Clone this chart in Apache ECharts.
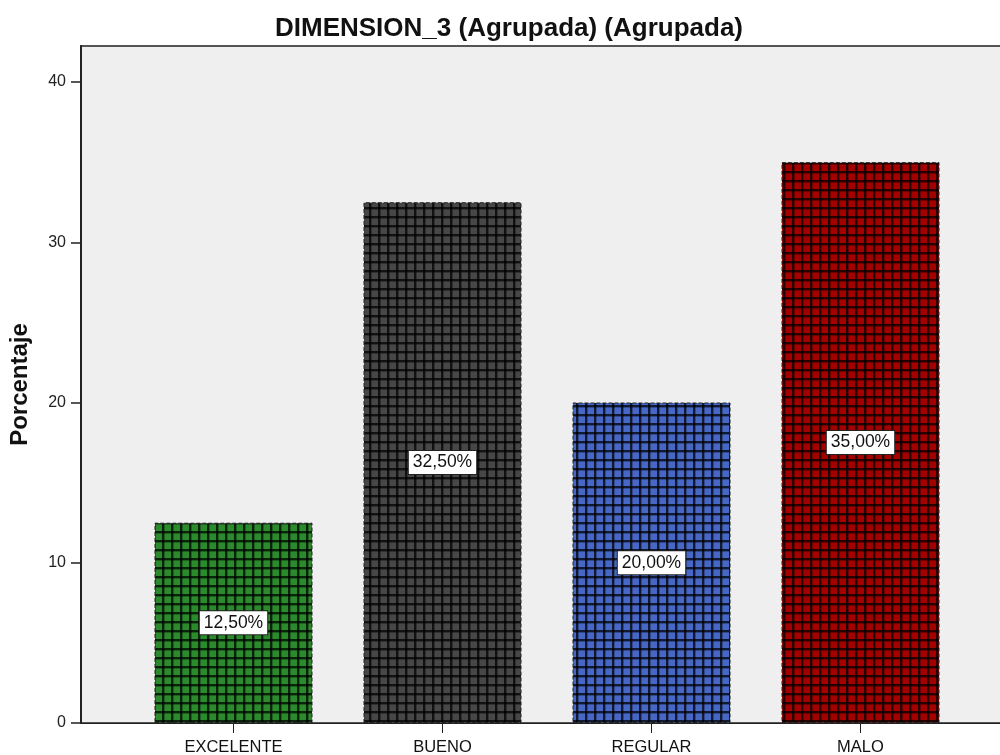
<!DOCTYPE html>
<html><head><meta charset="utf-8">
<script src="https://cdn.jsdelivr.net/npm/echarts@6/dist/echarts.min.js"></script>
<style>html,body{margin:0;padding:0;background:#fff}#c{width:1000px;height:755px}</style>
</head><body><div id="c"></div>
<script>
const categories = ['EXCELENTE', 'BUENO', 'REGULAR', 'MALO'];
const values = [12.5, 32.5, 20.0, 35.0];
const labels = ['12,50%', '32,50%', '20,00%', '35,00%'];
const barColors = ['#2b8a2b', '#474747', '#4767c6', '#a30000'];
const yTicks = [0, 10, 20, 30, 40];

function pattern(col) {
  const s = 9;
  const cv = document.createElement('canvas');
  cv.width = s; cv.height = s;
  const g = cv.getContext('2d');
  g.fillStyle = col; g.fillRect(0, 0, s, s);
  g.fillStyle = 'rgba(0,0,0,0.75)';
  g.fillRect(0, 0, 2, s);
  g.fillRect(0, 0, s, 2);
  g.fillStyle = 'rgba(0,0,0,0.3)';
  g.fillRect(2, 0, 1, s);
  g.fillRect(0, 2, s, 1);
  return { image: cv, repeat: 'repeat' };
}

const FONT = 'Liberation Sans, Arial';
const chart = echarts.init(document.getElementById('c'));
const yMax = 42.25;
chart.setOption({
  animation: false,
  title: { text: 'DIMENSION_3 (Agrupada) (Agrupada)', left: 504, textAlign: 'center', top: 11,
    textStyle: { fontFamily: FONT, fontSize: 26, fontWeight: 'bold', color: '#111' } },
  grid: [
    { left: 81, top: 46, right: -20, bottom: 32, show: true, backgroundColor: '#efefef', borderColor: '#555', borderWidth: 2,
      outerBoundsMode: 'none', containLabel: false },
    { left: 129, top: 46, width: 836, bottom: 32, outerBoundsMode: 'none', containLabel: false }
  ],
  xAxis: [
    { type: 'value', gridIndex: 0, min: 0, max: 1, axisLine: { show: true, onZero: false, lineStyle: { color: '#222', width: 1 } },
      axisTick: { show: false }, axisLabel: { show: false }, splitLine: { show: false } },
    { type: 'category', gridIndex: 1, data: categories, axisLine: { show: false },
      axisTick: { show: true, alignWithLabel: true, length: 10, lineStyle: { color: '#222' } },
      axisLabel: { fontFamily: FONT, fontSize: 16.5, color: '#111', margin: 16 } }
  ],
  yAxis: [
    { type: 'value', gridIndex: 0, min: 0, max: yMax, interval: 10,
      name: 'Porcentaje', nameLocation: 'middle', nameGap: 49, nameRotate: 90,
      nameTextStyle: { fontFamily: FONT, fontSize: 24, fontWeight: 'bold', color: '#111' },
      axisLine: { show: true, lineStyle: { color: '#222', width: 2 } },
      axisTick: { show: true, length: 10, customValues: yTicks, lineStyle: { color: '#222', width: 1.5 } },
      axisLabel: { fontFamily: FONT, fontSize: 16, color: '#222', margin: 15, customValues: yTicks },
      splitLine: { show: false } },
    { type: 'value', gridIndex: 1, min: 0, max: yMax, interval: 10, show: false }
  ],
  series: [{
    type: 'bar', xAxisIndex: 1, yAxisIndex: 1, barWidth: 158,
    data: values.map((v, i) => ({ value: v, itemStyle: { color: pattern(barColors[i]) },
      label: { formatter: labels[i] } })),
    itemStyle: { borderColor: '#222', borderWidth: 1, borderType: 'dashed' },
    label: { show: true, position: 'inside', fontFamily: FONT, fontSize: 17.5, color: '#111', lineHeight: 18,
      backgroundColor: '#fff', borderColor: '#222', borderWidth: 1, padding: [3, 4, 2, 4] }
  }]
});
</script></body></html>
